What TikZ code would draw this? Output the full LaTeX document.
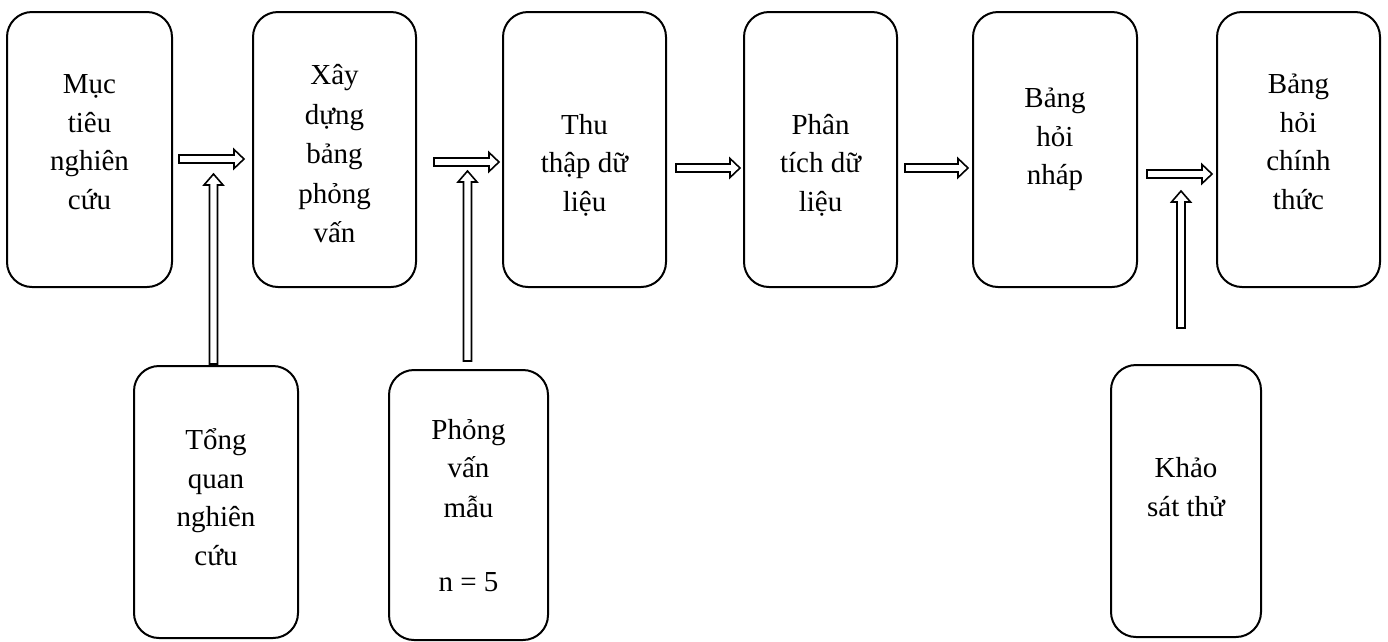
\documentclass[tikz,border=0pt]{standalone}
\usepackage{fontspec}
\setmainfont{Liberation Serif}
\usetikzlibrary{calc}
\tikzset{
  stage/.style={draw, line width=2pt, rounded corners=25pt, inner sep=0pt},
  lbl/.style={align=center, font=\fontsize{29}{38.5}\selectfont, inner sep=0pt},
  fat/.style={draw, line width=1.6pt, fill=white, line join=miter},
}
% hollow block arrow, horizontal: from #1 to #2 (tip)
\newcommand\harrow[2]{\draw[fat] let \p1=#1, \p2=#2 in
  (\x1,\y1+4pt) -- (\x2-10pt,\y1+4pt) -- (\x2-10pt,\y1+9.5pt) -- (\x2,\y1)
  -- (\x2-10pt,\y1-9.5pt) -- (\x2-10pt,\y1-4pt) -- (\x1,\y1-4pt) -- cycle;}
% hollow block arrow, vertical: from #1 (foot) up to #2 (tip)
\newcommand\varrow[2]{\draw[fat] let \p1=#1, \p2=#2 in
  (\x1-4pt,\y1) -- (\x1-4pt,\y2-11pt) -- (\x1-9.5pt,\y2-11pt) -- (\x1,\y2)
  -- (\x1+9.5pt,\y2-11pt) -- (\x1+4pt,\y2-11pt) -- (\x1+4pt,\y1) -- cycle;}
\begin{document}
\begin{tikzpicture}[x=1pt,y=-1pt]
\useasboundingbox (0,0) rectangle (1388,641);
% main row
\node[stage, minimum width=165pt, minimum height=275pt] (b1) at (89.5,149.5) {};
\node[stage, minimum width=163pt, minimum height=275pt] (b2) at (334.5,149.5) {};
\node[stage, minimum width=163pt, minimum height=275pt] (b3) at (584.5,149.5) {};
\node[stage, minimum width=153pt, minimum height=275pt] (b4) at (820.5,149.5) {};
\node[stage, minimum width=164pt, minimum height=275pt] (b5) at (1055,149.5) {};
\node[stage, minimum width=163pt, minimum height=275pt] (b6) at (1298.5,149.5) {};
% inputs below
\node[stage, minimum width=164pt, minimum height=272pt] (bA) at (216,502) {};
\node[stage, minimum width=159pt, minimum height=270pt] (bB) at (468.5,505) {};
\node[stage, minimum width=150pt, minimum height=272pt] (bC) at (1186,501) {};
% labels
\node[lbl] (t1) at (89.5,142) {Mục\\tiêu\\nghiên\\cứu};
\node[lbl, font=\fontsize{29}{39.5}\selectfont] (t2) at (334.5,154) {Xây\\dựng\\bảng\\phỏng\\vấn};
\node[lbl] (t3) at (584.5,165) {Thu\\thập dữ\\liệu};
\node[lbl] (t4) at (820.5,165) {Phân\\tích dữ\\liệu};
\node[lbl] (t5) at (1055,139.5) {Bảng\\hỏi\\nháp};
\node[lbl] (t6) at (1298.5,142) {Bảng\\hỏi\\chính\\thức};
\node[lbl] (tA) at (216,497) {Tổng\\quan\\nghiên\\cứu};
\node[lbl, font=\fontsize{29}{38}\selectfont] (tB) at (468.5,506) {Phỏng\\vấn\\[2pt]mẫu\\[36pt]n = 5};
\node[lbl] (tC) at (1186,487) {Khảo\\sát thử};
% arrow ends
\coordinate (h1s) at (179,159);  \coordinate (h1e) at (244,159);
\coordinate (h2s) at (434,162);  \coordinate (h2e) at (499,162);
\coordinate (h3s) at (676,168);  \coordinate (h3e) at (740,168);
\coordinate (h4s) at (905,168);  \coordinate (h4e) at (968,168);
\coordinate (h5s) at (1147,174); \coordinate (h5e) at (1212,174);
\coordinate (v1s) at (213.5,364); \coordinate (v1e) at (213.5,174);
\coordinate (v2s) at (467.5,361); \coordinate (v2e) at (467.5,171);
\coordinate (v3s) at (1181,328);  \coordinate (v3e) at (1181,191);
% arrows
\harrow{(h1s)}{(h1e)}
\harrow{(h2s)}{(h2e)}
\harrow{(h3s)}{(h3e)}
\harrow{(h4s)}{(h4e)}
\harrow{(h5s)}{(h5e)}
\varrow{(v1s)}{(v1e)}
\varrow{(v2s)}{(v2e)}
\varrow{(v3s)}{(v3e)}
\end{tikzpicture}
\end{document}
